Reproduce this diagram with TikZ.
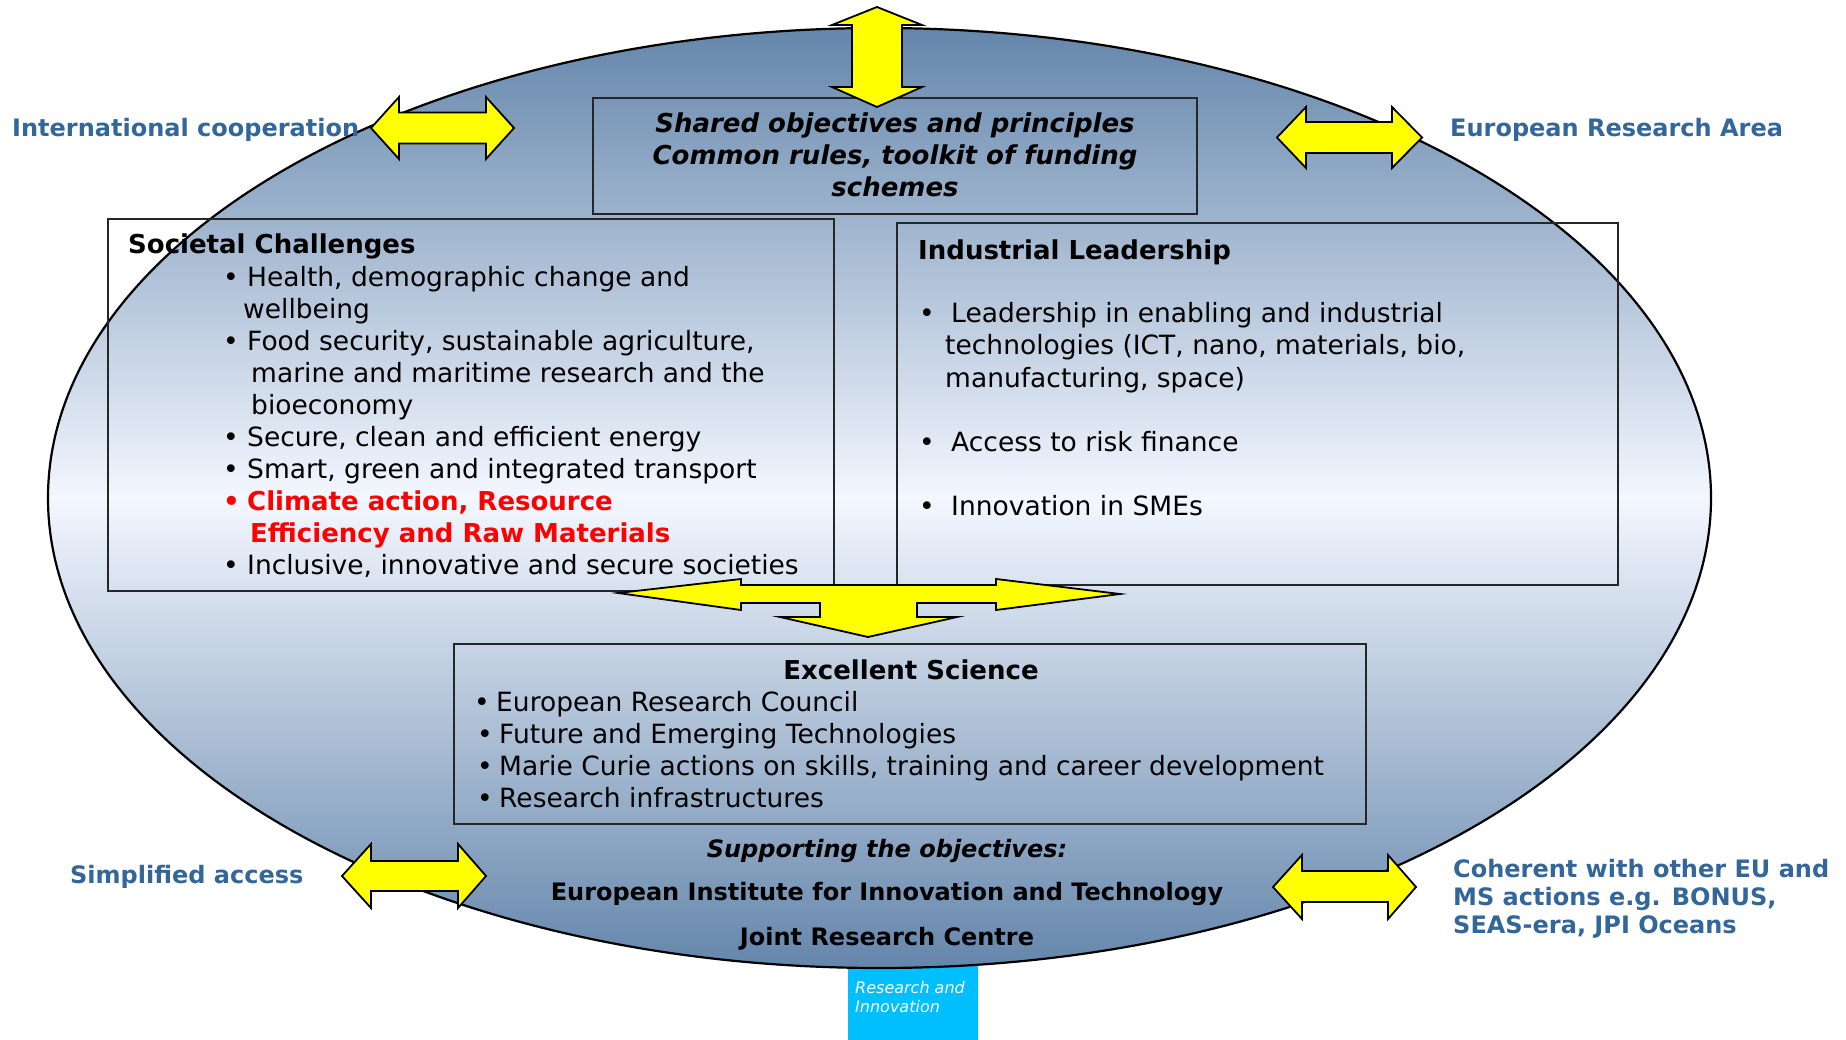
\documentclass[tikz,border=0pt]{standalone}
\usepackage{fontspec}
\setmainfont{DejaVu Sans}
\definecolor{lblblue}{RGB}{51,102,153}
\definecolor{ellout}{RGB}{100,134,171}
\definecolor{ellmid}{RGB}{243,247,255}
\definecolor{ricyan}{RGB}{0,191,255}
\definecolor{yel}{RGB}{255,255,0}
\newcommand\bul[1][20pt]{\makebox[#1][l]{•}}
\tikzset{
  boxframe/.style={draw=black!85, line width=2pt, inner sep=0pt},
  yarrow/.style={fill=yel, draw=black, line width=1.8pt, line join=miter},
  txt/.style={inner sep=0pt, anchor=base west, font=\fontsize{26.5}{32}\selectfont},
  redtxt/.style={inner sep=0pt, anchor=base west, text=red, font=\fontsize{26}{32}\selectfont\bfseries},
  hd/.style={inner sep=0pt, anchor=base west, font=\fontsize{26}{32}\selectfont\bfseries},
  shtxt/.style={inner sep=0pt, anchor=base, font=\fontsize{26}{32}\selectfont\bfseries\itshape},
  bottxt/.style={inner sep=0pt, anchor=base, font=\fontsize{24}{28}\selectfont\bfseries},
  lbl/.style={inner sep=0pt, anchor=base west, text=lblblue, font=\fontsize{24}{28}\selectfont\bfseries},
  ritxt/.style={inner sep=0pt, anchor=base west, text=white, font=\fontsize{16}{19}\selectfont\itshape},
}
\begin{document}
\begin{tikzpicture}[x=1pt,y=-1pt]
\useasboundingbox (0,0) rectangle (1846,1040);
% Research and Innovation tab (behind ellipse)
\node[fill=ricyan, minimum width=130pt, minimum height=90pt, inner sep=0pt] (ribox) at (913,995) {};
% ellipse
\shadedraw[draw=black, line width=2.2pt, top color=ellout, bottom color=ellout, middle color=ellmid]
  (879.5,498) ellipse [x radius=831.5, y radius=470];
% boxes
\node[boxframe, minimum width=604pt, minimum height=116pt] (shbox) at (895,156) {};
\node[boxframe, minimum width=726pt, minimum height=372pt] (scbox) at (471,405) {};
\node[boxframe, minimum width=721pt, minimum height=362pt] (ilbox) at (1257.5,404) {};
\node[boxframe, minimum width=912pt, minimum height=180pt] (esbox) at (910,734) {};
% arrows
\draw[yarrow] (877,7) -- (922,25) -- (902,25) -- (902,87) -- (922,87) -- (877,107) -- (832,87) -- (852,87) -- (852,25) -- (832,25) -- cycle;
\draw[yarrow] (371,128) -- (399,97) -- (399,112.5) -- (486,112.5) -- (486,97) -- (514,128) -- (486,159) -- (486,143.5) -- (399,143.5) -- (399,159) -- cycle;
\draw[yarrow] (1277,137.5) -- (1306,107) -- (1306,122) -- (1392,122) -- (1392,107) -- (1422,137.5) -- (1392,168) -- (1392,153) -- (1306,153) -- (1306,168) -- cycle;
\draw[yarrow] (342,876) -- (371,844) -- (371,861) -- (458,861) -- (458,844) -- (486,876) -- (458,908) -- (458,891) -- (371,891) -- (371,908) -- cycle;
\draw[yarrow] (1273,887) -- (1302,855) -- (1302,871) -- (1388,871) -- (1388,855) -- (1416,887) -- (1388,919) -- (1388,902) -- (1302,902) -- (1302,919) -- cycle;
\draw[yarrow] (618,593) -- (741,579) -- (741,585) -- (996,585) -- (996,579) -- (1120,594) -- (996,610) -- (996,603) -- (917,603) -- (917,617) -- (957,617) -- (868,637) -- (780,617) -- (820,617) -- (820,603) -- (741,603) -- (741,610) -- cycle;
% shared objectives
\node[shtxt] (sh1) at (895,133) {Shared objectives and principles};
\node[shtxt] (sh2) at (895,165) {Common rules, toolkit of funding};
\node[shtxt] (sh3) at (895,197) {schemes};
% societal challenges
\node[hd] (schead) at (128,254) {Societal Challenges};
\node[txt] (sc1) at (223,287) {\bul[24pt]Health, demographic change and};
\node[txt] (sc1b) at (243,319) {wellbeing};
\node[txt] (sc2) at (223,350) {\bul[24pt]Food security, sustainable agriculture,};
\node[txt] (sc2b) at (251,382) {marine and maritime research and the};
\node[txt] (sc2c) at (251,414) {bioeconomy};
\node[txt] (sc3) at (223,446) {\bul[24pt]Secure, clean and efficient energy};
\node[txt] (sc4) at (223,478) {\bul[24pt]Smart, green and integrated transport};
\node[redtxt] (sc5) at (223,510) {\bul[24pt]Climate action, Resource};
\node[redtxt] (sc5b) at (250,542) {Efficiency and Raw Materials};
\node[txt] (sc6) at (223,574) {\bul[24pt]Inclusive, innovative and secure societies};
% industrial leadership
\node[hd] (ilhead) at (918,260) {Industrial Leadership};
\node[txt] (il1) at (919,323) {\bul[32pt]Leadership in enabling and industrial};
\node[txt] (il1b) at (945,355) {technologies (ICT, nano, materials, bio,};
\node[txt] (il1c) at (945,387) {manufacturing, space)};
\node[txt] (il2) at (919,451) {\bul[32pt]Access to risk finance};
\node[txt] (il3) at (919,515) {\bul[32pt]Innovation in SMEs};
% excellent science
\node[hd, anchor=base] (eshead) at (911,679) {Excellent Science};
\node[txt] (es1) at (474,711) {\bul[22pt]European Research Council};
\node[txt] (es2) at (477,743) {\bul[22pt]Future and Emerging Technologies};
\node[txt] (es3) at (477,775) {\bul[22pt]Marie Curie actions on skills, training and career development};
\node[txt] (es4) at (477,807) {\bul[22pt]Research infrastructures};
% supporting
\node[bottxt, font=\fontsize{24}{28}\selectfont\bfseries\itshape] (sup) at (887,857) {Supporting the objectives:};
\node[bottxt] (eit) at (887,900) {European Institute for Innovation and Technology};
\node[bottxt] (jrc) at (887,945) {Joint Research Centre};
% outer labels
\node[lbl] (intl) at (12,137) {International cooperation};
\node[lbl] (era) at (1450,137) {European Research Area};
\node[lbl] (simp) at (70,883) {Simplified access};
\node[lbl] (coh1) at (1453,877) {Coherent with other EU and};
\node[lbl] (coh2) at (1453,905) {MS actions e.g. BONUS,};
\node[lbl] (coh3) at (1453,933) {SEAS-era, JPI Oceans};
% research and innovation
\node[ritxt] (ri1) at (855,993) {Research and};
\node[ritxt] (ri2) at (855,1012) {Innovation};
\end{tikzpicture}
\end{document}
